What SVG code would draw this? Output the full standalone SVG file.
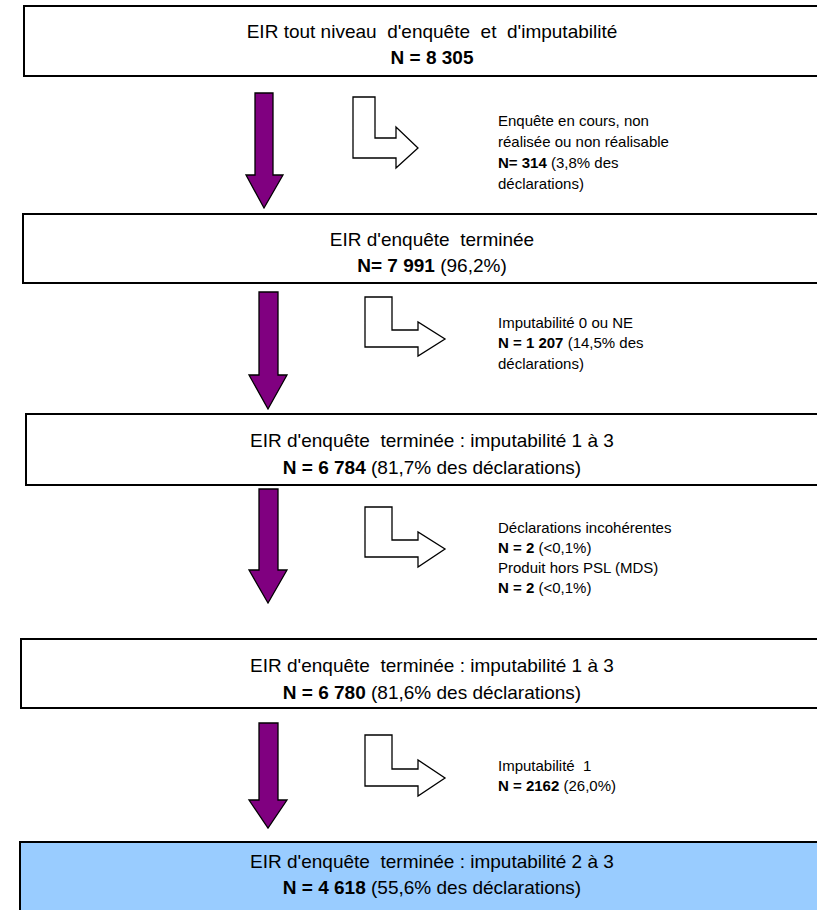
<svg xmlns="http://www.w3.org/2000/svg" width="817" height="910" viewBox="0 0 817 910">
<style>
.box{fill:#fff;stroke:#000;stroke-width:2}
.blue{fill:#99ccff}
.t{font-family:"Liberation Sans",Arial,sans-serif;font-size:19px;fill:#000;text-anchor:middle;white-space:pre}
.s{font-family:"Liberation Sans",Arial,sans-serif;font-size:15px;fill:#000;white-space:pre}
.b{font-weight:bold}
.down{fill:#800080;stroke:#000;stroke-width:1.3}
.side{fill:#fff;stroke:#000;stroke-width:1.3}
</style>
<rect width="817" height="910" fill="#fff"/>
<g id="box1"><rect class="box" x="24" y="6" width="820" height="70"/>
<text class="t" x="432" y="38">EIR tout niveau  d'enquête  et  d'imputabilité</text>
<text class="t b" x="432" y="64">N = 8 305</text></g>
<g id="box2"><rect class="box" x="23" y="214" width="820" height="69"/>
<text class="t" x="432" y="246">EIR d'enquête  terminée</text>
<text class="t" x="432" y="272"><tspan class="b">N= 7 991</tspan> (96,2%)</text></g>
<g id="box3"><rect class="box" x="26" y="414" width="820" height="71"/>
<text class="t" x="432" y="447">EIR d'enquête  terminée : imputabilité 1 à 3</text>
<text class="t" x="432" y="474"><tspan class="b">N = 6 784</tspan> (81,7% des déclarations)</text></g>
<g id="box4"><rect class="box" x="21" y="639" width="820" height="69"/>
<text class="t" x="432" y="672">EIR d'enquête  terminée : imputabilité 1 à 3</text>
<text class="t" x="432" y="699"><tspan class="b">N = 6 780</tspan> (81,6% des déclarations)</text></g>
<g id="box5"><rect class="box blue" x="20" y="842" width="820" height="80"/>
<text class="t" x="432" y="868">EIR d'enquête  terminée : imputabilité 2 à 3</text>
<text class="t" x="432" y="894"><tspan class="b">N = 4 618</tspan> (55,6% des déclarations)</text></g>
<g id="note1"><text class="s" x="498" y="126">Enquête en cours, non</text>
<text class="s" x="498" y="147">réalisée ou non réalisable</text>
<text class="s" x="498" y="168"><tspan class="b">N= 314</tspan> (3,8% des</text>
<text class="s" x="498" y="189">déclarations)</text></g>
<g id="note2"><text class="s" x="498" y="328">Imputabilité 0 ou NE</text>
<text class="s" x="498" y="348"><tspan class="b">N = 1 207</tspan> (14,5% des</text>
<text class="s" x="498" y="369">déclarations)</text></g>
<g id="note3"><text class="s" x="498" y="533">Déclarations incohérentes</text>
<text class="s" x="498" y="553"><tspan class="b">N = 2</tspan> (&lt;0,1%)</text>
<text class="s" x="498" y="573">Produit hors PSL (MDS)</text>
<text class="s" x="498" y="593"><tspan class="b">N = 2</tspan> (&lt;0,1%)</text></g>
<g id="note4"><text class="s" x="498" y="771">Imputabilité  1</text>
<text class="s" x="498" y="791"><tspan class="b">N = 2162</tspan> (26,0%)</text></g>
<g id="connectors">
<polygon class="down" points="255,93 273,93 273,175 283,175 264,208 246,175 255,175"/>
<polygon class="side" points="353,97 375,97 375,138 396,138 396,127 418,148 396,168 396,158 353,158"/>
<polygon class="down" points="259,292 278,292 278,375 287,375 268,409 249,375 259,375"/>
<polygon class="side" points="365,297 392,297 392,330 418,330 418,322 445,339 418,356 418,347 365,347"/>
<polygon class="down" points="259,489 278,489 278,570 287,570 268,603 249,570 259,570"/>
<polygon class="side" points="365,507 392,507 392,540 418,540 418,532 445,549 418,567 418,557 365,557"/>
<polygon class="down" points="259,723 278,723 278,800 287,800 268,828 249,800 259,800"/>
<polygon class="side" points="365,735 392,735 392,769 418,769 418,760 445,778 418,796 418,786 365,786"/>
</g>
</svg>
